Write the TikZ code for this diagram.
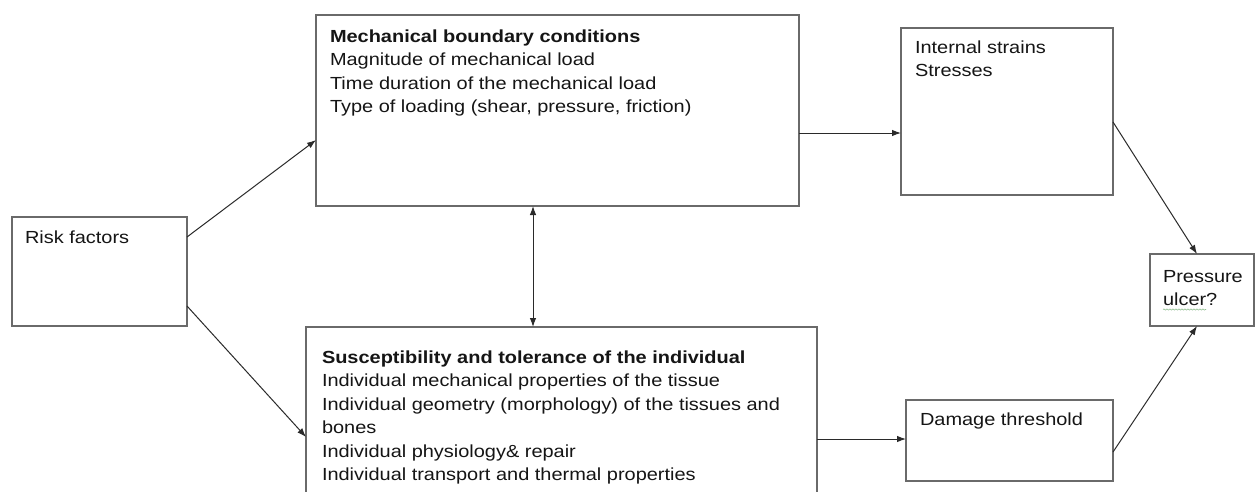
\documentclass[tikz,border=0pt]{standalone}
\usepackage{fontspec}
\setmainfont{Liberation Sans}[FakeStretch=1.14]
\usetikzlibrary{arrows.meta,calc,decorations.pathmorphing}
\definecolor{boxgray}{HTML}{6A6A6A}
\definecolor{textcol}{HTML}{151515}
\definecolor{arrcol}{HTML}{2A2A2A}
\definecolor{spell}{HTML}{8FBF8F}
\newcommand{\tlines}[1]{\begin{tabular}[t]{@{}l@{}}#1\end{tabular}}
\begin{document}
\begin{tikzpicture}[x=1pt,y=-1pt,
  box/.style={draw=boxgray, line width=1.4pt, inner sep=0pt, outer sep=0pt},
  txt/.style={anchor=base west, inner sep=0pt, outer sep=0pt, text=textcol,
    font=\fontsize{17.5}{23.5}\selectfont\renewcommand{\arraystretch}{1}},
  arr/.style={draw=arrcol, line width=1pt, -{Latex[length=9pt,width=6.5pt]}},
  darr/.style={draw=arrcol, line width=1pt, {Latex[length=9pt,width=6.5pt]}-{Latex[length=9pt,width=6.5pt]}}]
\useasboundingbox (0,0) rectangle (1256,491);
\fill[white] (0,0) rectangle (1256,491);
\clip (0,0) rectangle (1256,491);
% boxes
\node[box, minimum width=175, minimum height=109] (risk) at (99.5,271.5) {};
\node[box, minimum width=483, minimum height=191] (mech) at (557.5,110.5) {};
\node[box, minimum width=511, minimum height=193] (susc) at (561.5,423.5) {};
\node[box, minimum width=212, minimum height=167] (internal) at (1007,111.5) {};
\node[box, minimum width=104, minimum height=72] (pressure) at (1202,290) {};
\node[box, minimum width=207, minimum height=81] (damage) at (1009.5,440.5) {};
% texts
\node[txt] (risktxt) at ($(risk.north west)+(13,26)$) {\tlines{Risk factors}};
\node[txt] (mechtxt) at ($(mech.north west)+(14,27)$) {\tlines{\textbf{Mechanical boundary conditions}\\
  Magnitude of mechanical load\\
  Time duration of the mechanical load\\
  Type of loading (shear, pressure, friction)}};
\node[txt] (susctxt) at ($(susc.north west)+(16,36)$) {\tlines{\textbf{Susceptibility and tolerance of the individual}\\
  Individual mechanical properties of the tissue\\
  Individual geometry (morphology) of the tissues and\\
  bones\\
  Individual physiology\& repair\\
  Individual transport and thermal properties}};
\node[txt] (inttxt) at ($(internal.north west)+(14,25)$) {\tlines{Internal strains\\ Stresses}};
\node[txt] (prestxt) at ($(pressure.north west)+(13,28)$) {\tlines{Pressure\\ ulcer?}};
\node[txt] (damtxt) at ($(damage.north west)+(14,25)$) {\tlines{Damage threshold}};
\draw[spell, line width=0.6pt, decorate, decoration={snake, amplitude=0.6pt, segment length=3pt}]
  ($(prestxt.base west)+(0,27.5)$) -- ++(43,0);
% connectors
\draw[arr] ($(risk.north east)+(0,20)$) -- ($(mech.north west)+(0,125)$);
\draw[arr] ($(risk.north east)+(0,89)$) -- ($(susc.north west)+(0,110)$);
\draw[arr] ($(mech.north east)+(0,118)$) -- ($(internal.north west)+(0,105)$);
\draw[darr] ($(mech.south west)+(217,0)$) -- ($(susc.north west)+(227,0)$);
\draw[arr] ($(susc.north east)+(0,112)$) -- ($(damage.north west)+(0,39)$);
\draw[arr] ($(internal.north east)+(0,94)$) -- ($(pressure.north west)+(47,0)$);
\draw[arr] ($(damage.north east)+(0,52)$) -- ($(pressure.south west)+(47,0)$);
\end{tikzpicture}
\end{document}
